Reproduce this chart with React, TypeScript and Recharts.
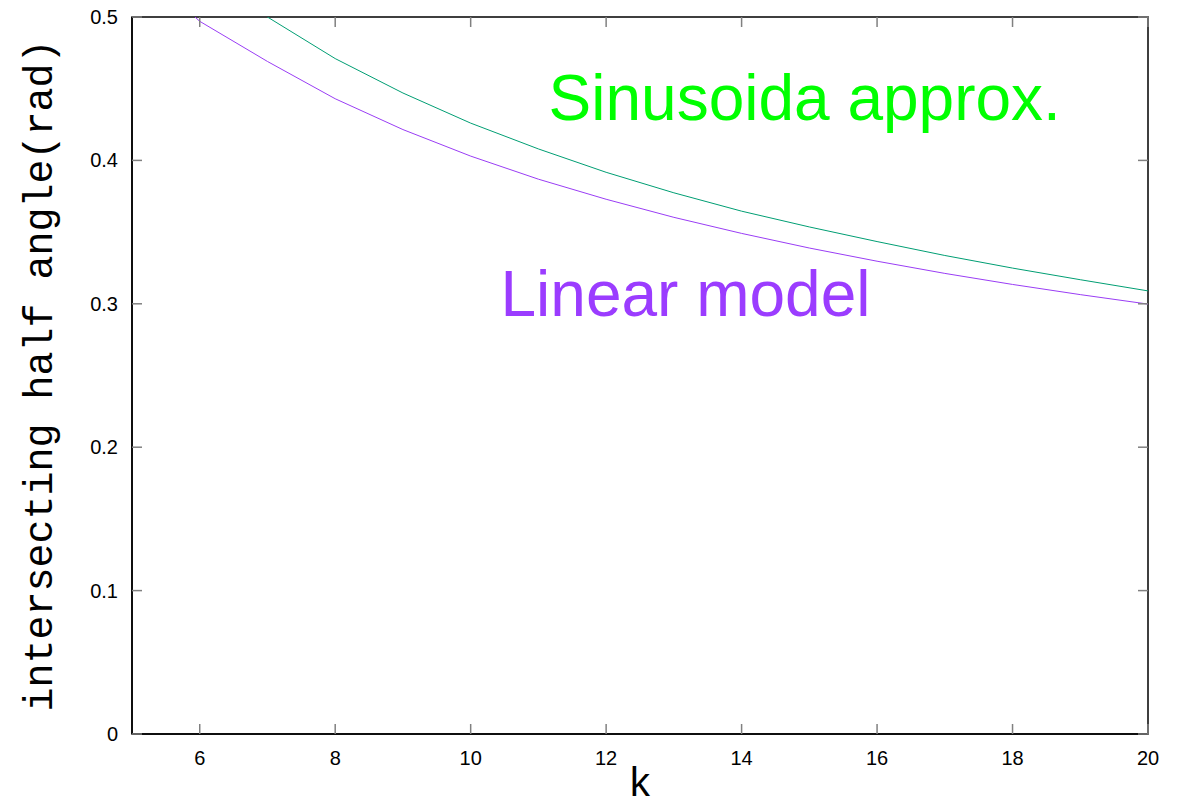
import React from 'react';
import { LineChart, Line, XAxis, YAxis, ReferenceDot, ReferenceArea } from 'recharts';

const kValues = [5, 6, 7, 8, 9, 10, 11, 12, 13, 14, 15, 16, 17, 18, 19, 20];
const linearModel = [0.54, 0.497, 0.469, 0.443, 0.4215, 0.403, 0.3869, 0.3729, 0.3603, 0.3491, 0.3389, 0.3297, 0.3212, 0.3135, 0.3064, 0.2998];
const sinusoidal = [null, 0.54, 0.5, 0.471, 0.447, 0.426, 0.408, 0.3917, 0.3774, 0.3646, 0.3536, 0.3434, 0.3337, 0.3249, 0.3168, 0.309];

const xTicks = [6, 8, 10, 12, 14, 16, 18, 20];
const yTicks = [0, 0.1, 0.2, 0.3, 0.4, 0.5];

const data = kValues.map((k, i) => ({ k, linear: linearModel[i], sinus: sinusoidal[i] }));

const W = 1184;
const H = 808;
const margin = { top: 17, right: 36, bottom: 0, left: 0 };
const plotRight = W - margin.right;
const plotTop = margin.top;

const tickFont = '"Liberation Sans", Arial, sans-serif';
const monoFont = '"Liberation Mono", "Courier New", monospace';
const tickColor = '#808080';

// gnuplot style ticks: drawn inward on all four sides, labels outside
const BottomTick = (props: any) => {
  const { x, y, payload } = props;
  return (
    <g>
      <line x1={x} y1={y} x2={x} y2={y - 10} stroke={tickColor} strokeWidth={1.5} />
      <line x1={x} y1={plotTop} x2={x} y2={plotTop + 10} stroke={tickColor} strokeWidth={1.5} />
      <text x={x} y={y + 31} textAnchor="middle" fontSize={20} fontFamily={tickFont} fill="#000">
        {payload.value}
      </text>
    </g>
  );
};

const LeftTick = (props: any) => {
  const { x, y, payload } = props;
  return (
    <g>
      <line x1={x} y1={y} x2={x + 10} y2={y} stroke={tickColor} strokeWidth={1.5} />
      <line x1={plotRight} y1={y} x2={plotRight - 10} y2={y} stroke={tickColor} strokeWidth={1.5} />
      <text x={x - 14} y={y + 7} textAnchor="end" fontSize={20} fontFamily={tickFont} fill="#000">
        {payload.value}
      </text>
    </g>
  );
};

const App: React.FC = () => {
  return (
    <div style={{ position: 'absolute', left: 0, top: 0, background: '#fff' }}>
      <LineChart width={W} height={H} data={data} margin={margin}>
        <XAxis
          dataKey="k"
          type="number"
          domain={[5, 20]}
          ticks={xTicks}
          interval={0}
          allowDataOverflow
          height={74}
          tickSize={0}
          tickMargin={0}
          tick={<BottomTick />}
          axisLine={{ stroke: '#000', strokeWidth: 1.5 }}
          label={{
            content: (p: any) => (
              <text
                x={p.viewBox.x + p.viewBox.width / 2}
                y={796}
                textAnchor="middle"
                fontSize={40}
                fontFamily={monoFont}
                fill="#000"
              >
                k
              </text>
            ),
          }}
        />
        <YAxis
          type="number"
          domain={[0, 0.5]}
          ticks={yTicks}
          interval={0}
          allowDataOverflow
          width={132}
          tickSize={0}
          tickMargin={0}
          tick={<LeftTick />}
          axisLine={{ stroke: '#000', strokeWidth: 1.5 }}
          label={{
            content: (p: any) => {
              const cx = 52;
              const cy = p.viewBox.y + p.viewBox.height / 2;
              return (
                <text
                  x={cx}
                  y={cy}
                  transform={`rotate(-90, ${cx}, ${cy})`}
                  textAnchor="middle"
                  fontSize={40}
                  fontFamily={monoFont}
                  fill="#000"
                >
                  intersecting half angle(rad)
                </text>
              );
            },
          }}
        />
        <ReferenceArea x1={5} x2={20} y1={0} y2={0.5} fill="none" stroke="#000" strokeWidth={1.5} />
        <Line
          type="linear"
          dataKey="linear"
          stroke="#9a3df5"
          strokeWidth={1}
          dot={false}
          activeDot={false}
          isAnimationActive={false}
        />
        <Line
          type="linear"
          dataKey="sinus"
          stroke="#009e73"
          strokeWidth={1}
          dot={false}
          activeDot={false}
          isAnimationActive={false}
        />
        <ReferenceDot
          x={11.15}
          y={0.4285}
          r={0}
          fill="none"
          stroke="none"
          label={{
            content: (p: any) => (
              <text x={p.viewBox.x} y={p.viewBox.y} fontSize={64} fontFamily={tickFont} fill="#00ff00">
                Sinusoida approx.
              </text>
            ),
          }}
        />
        <ReferenceDot
          x={10.44}
          y={0.2917}
          r={0}
          fill="none"
          stroke="none"
          label={{
            content: (p: any) => (
              <text x={p.viewBox.x} y={p.viewBox.y} fontSize={64} fontFamily={tickFont} fill="#9b3cff">
                Linear model
              </text>
            ),
          }}
        />
      </LineChart>
    </div>
  );
};

export default App;
